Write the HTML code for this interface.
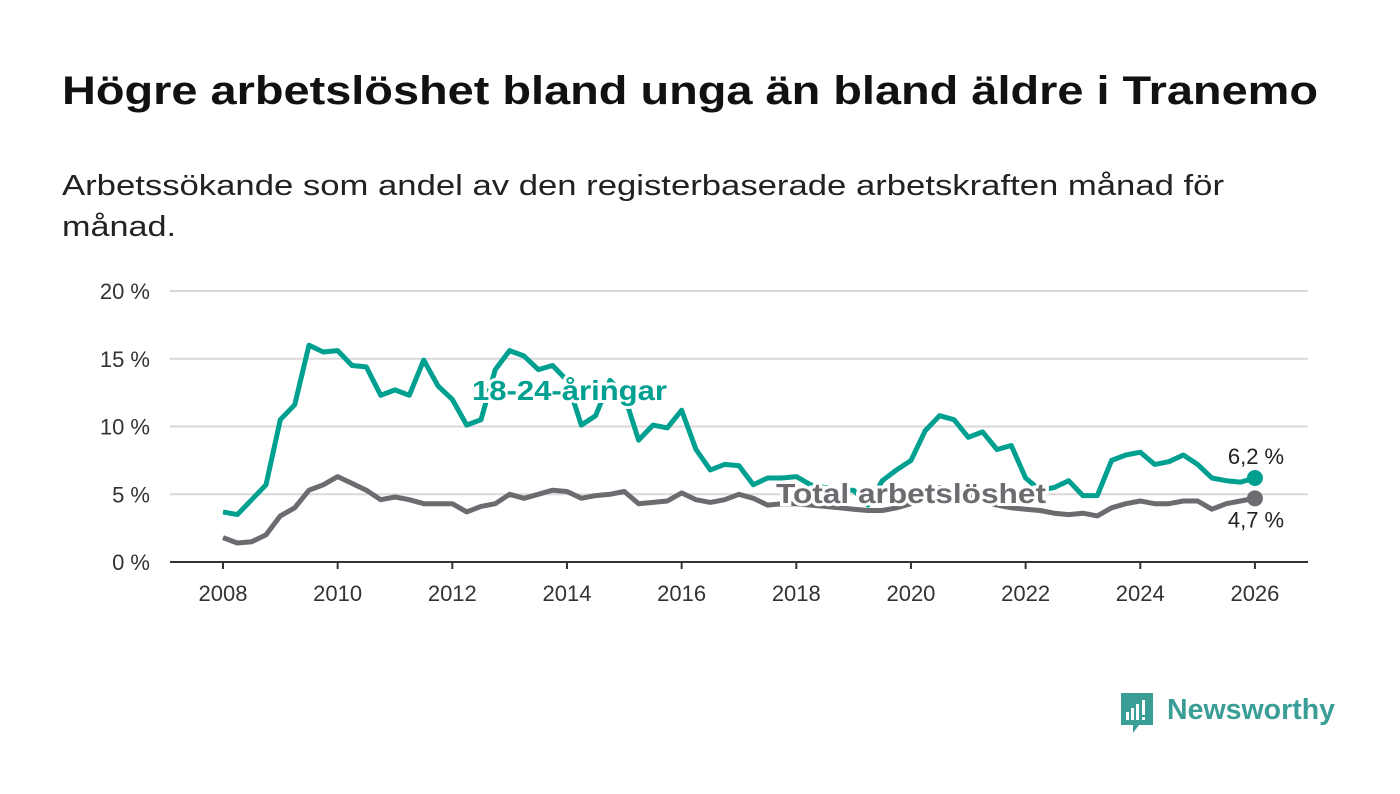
<!DOCTYPE html>
<html><head><meta charset="utf-8"><style>
body{margin:0;background:#fff;}
svg{display:block;font-family:"Liberation Sans",sans-serif;}
</style></head><body>
<svg id="chart" width="1400" height="794" viewBox="0 0 1400 794">
<text x="62" y="104" font-size="40" font-weight="bold" fill="#111" textLength="1256" lengthAdjust="spacingAndGlyphs">Högre arbetslöshet bland unga än bland äldre i Tranemo</text>
<text x="62" y="195" font-size="29" fill="#222" textLength="1162" lengthAdjust="spacingAndGlyphs">Arbetssökande som andel av den registerbaserade arbetskraften månad för</text>
<text x="62" y="236" font-size="29" fill="#222" textLength="114" lengthAdjust="spacingAndGlyphs">månad.</text>
<g id="grid"></g><g id="axes"></g><g id="lines"></g><g id="labels"></g>
<g>
<path d="M1121 693h32v32h-14l-6 8v-8h-12z" fill="#3a9e96"/>
<rect x="1126" y="712" width="3" height="8" fill="#fff"/><rect x="1131" y="708" width="3" height="12" fill="#fff"/><rect x="1136" y="704" width="3" height="16" fill="#fff"/><rect x="1142" y="700" width="3" height="15" fill="#fff"/><rect x="1142" y="717" width="3" height="3" fill="#fff"/>
<text x="1167" y="719" font-size="29" font-weight="bold" fill="#3a9e96" textLength="168" lengthAdjust="spacingAndGlyphs">Newsworthy</text>
</g>
</svg>
<script>
const years=[2008,2010,2012,2014,2016,2018,2020,2022,2024,2026];
const yTicks=[0,5,10,15,20];
const startYear=2008, step=0.25;
const youth=[3.7,3.5,4.6,5.7,10.5,11.6,16,15.5,15.6,14.5,14.4,12.3,12.7,12.3,14.9,13,12,10.1,10.5,14.2,15.6,15.2,14.2,14.5,13.4,10.1,10.8,13.4,12.3,9,10.1,9.9,11.2,8.3,6.8,7.2,7.1,5.7,6.2,6.2,6.3,5.7,5.5,5.3,5.3,4.2,6,6.8,7.5,9.7,10.8,10.5,9.2,9.6,8.3,8.6,6.2,5.3,5.5,6,4.9,4.9,7.5,7.9,8.1,7.2,7.4,7.9,7.2,6.2,6,5.9,6.2];
const total=[1.8,1.4,1.5,2.0,3.4,4.0,5.3,5.7,6.3,5.8,5.3,4.6,4.8,4.6,4.3,4.3,4.3,3.7,4.1,4.3,5.0,4.7,5.0,5.3,5.2,4.7,4.9,5.0,5.2,4.3,4.4,4.5,5.1,4.6,4.4,4.6,5.0,4.7,4.2,4.3,4.3,4.2,4.1,4.0,3.9,3.8,3.8,4.0,4.3,4.8,5.5,5.2,4.8,4.5,4.2,4.0,3.9,3.8,3.6,3.5,3.6,3.4,4.0,4.3,4.5,4.3,4.3,4.5,4.5,3.9,4.3,4.5,4.7];
const NS="http://www.w3.org/2000/svg";
const X=t=>223+(t-2008)*57.33, Y=v=>562-v*13.55;
function el(tag,attrs,parent,txt){const e=document.createElementNS(NS,tag);for(const k in attrs)e.setAttribute(k,attrs[k]);if(txt!==undefined)e.textContent=txt;document.getElementById(parent).appendChild(e);return e;}
yTicks.forEach(v=>{
 if(v>0){const g=el('line',{x1:170,x2:1308,y1:Y(v),y2:Y(v),stroke:'#d9d9d9','stroke-width':2},'grid');
 
 }
 const t=el('text',{x:150,y:Y(v)+8,'font-size':22,fill:'#333','text-anchor':'end'},'axes',v+' %');
 
 
});
const ax=el('line',{x1:170,x2:1308,y1:562,y2:562,stroke:'#333','stroke-width':2},'axes');


years.forEach(y=>{
 const tk=el('line',{x1:X(y),x2:X(y),y1:562,y2:569,stroke:'#333','stroke-width':2},'axes');
 
 
 const t=el('text',{x:X(y),y:601,'font-size':22,fill:'#333','text-anchor':'middle'},'axes',String(y));
 
 
});
function path(arr){return arr.map((v,i)=>(i?'L':'M')+X(startYear+i*step).toFixed(1)+','+Y(v).toFixed(1)).join('');}
const pt=el('path',{d:path(total),fill:'none',stroke:'#6d6a70','stroke-width':5,'stroke-linejoin':'round'},'lines');


const py=el('path',{d:path(youth),fill:'none',stroke:'#00a091','stroke-width':5,'stroke-linejoin':'round'},'lines');


const lastY=startYear+(youth.length-1)*step, lastT=startYear+(total.length-1)*step;
const dy=el('circle',{cx:X(lastY),cy:Y(youth[youth.length-1]),r:8,fill:'#00a091'},'lines');


const dt=el('circle',{cx:X(lastT),cy:Y(total[total.length-1]),r:8,fill:'#6d6a70'},'lines');


const fmt=v=>v.toFixed(1).replace('.',',')+' %';
const ly=el('text',{x:1256,y:Y(youth[youth.length-1])-14,'font-size':22,fill:'#222','text-anchor':'middle'},'labels',fmt(youth[youth.length-1]));


const lt=el('text',{x:1256,y:Y(total[total.length-1])+29,'font-size':22,fill:'#222','text-anchor':'middle'},'labels',fmt(total[total.length-1]));


const s1=el('text',{x:472,y:400,'font-size':28,'font-weight':'bold',fill:'#00a091',stroke:'#fff','stroke-width':6,'paint-order':'stroke',textLength:195,lengthAdjust:'spacingAndGlyphs'},'labels','18-24-åringar');


const s2=el('text',{x:776,y:503,'font-size':28,'font-weight':'bold',fill:'#6d6a70',stroke:'#fff','stroke-width':6,'paint-order':'stroke',textLength:270,lengthAdjust:'spacingAndGlyphs'},'labels','Total arbetslöshet');


</script>
</body></html>
